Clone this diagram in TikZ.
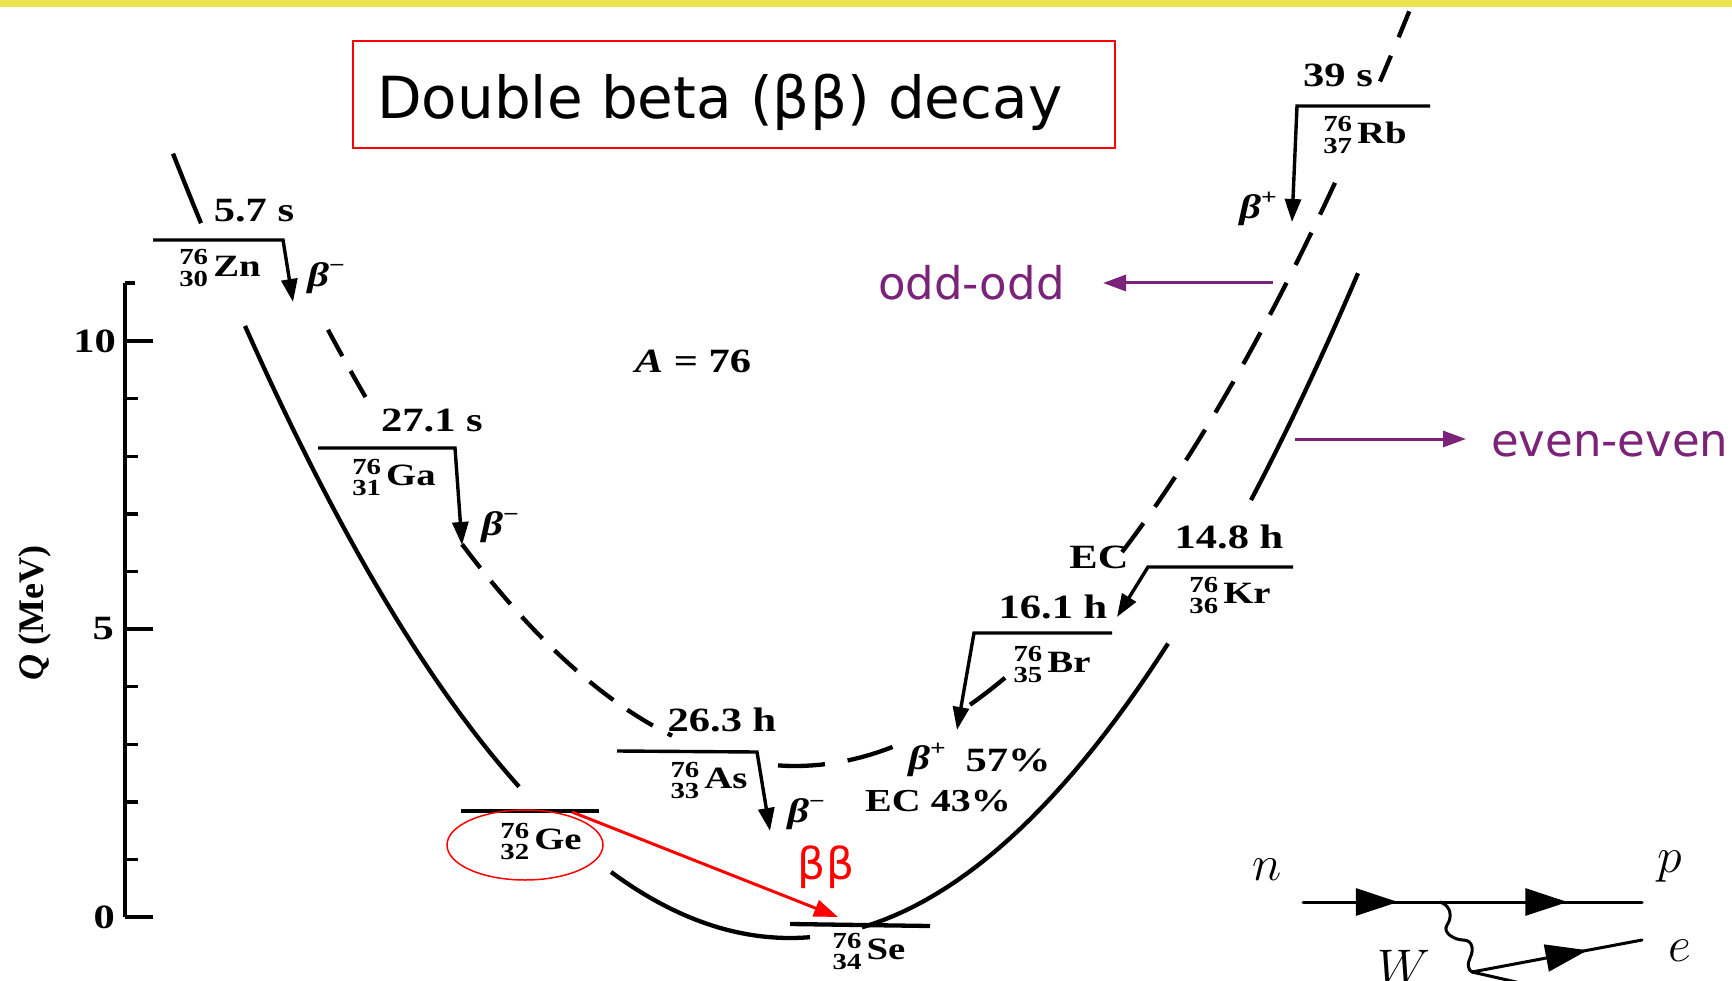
\RequirePackage{fix-cm}
\documentclass[tikz,border=0pt]{standalone}
\usepackage{fontspec}
\setmainfont{Liberation Serif}
\newfontfamily\dejavu{DejaVu Sans}
\newfontfamily\scanfont[FakeStretch=1.25]{Liberation Serif}
\usepackage{xcolor}
\definecolor{slideyellow}{HTML}{E8E54E}
\definecolor{oepurple}{HTML}{7B2378}
\usepackage{tikz}
\usetikzlibrary{positioning,arrows.meta,decorations.markings}

% stacked mass / charge numbers
\newcommand{\nuclide}[3]{{\fontsize{23}{20}\selectfont\begin{tabular}[c]{@{}r@{}}#1\\#2\end{tabular}}\,#3}
% beta with charge sign
\newcommand{\betasign}[1]{\textit{β}\raisebox{0.4em}{\fontsize{22}{22}\selectfont #1}}

\begin{document}
\begin{tikzpicture}[x=1pt, y=-1pt,
  level/.style={line width=4.3pt},
  decay/.style={line width=3.4pt, -{Triangle[length=23pt,width=16pt]}},
  evencurve/.style={line width=4.3pt},
  oddcurve/.style={line width=4.3pt, dash pattern=on 30pt off 17pt},
  axisline/.style={line width=3.4pt},
  scan/.style={font=\scanfont\bfseries\fontsize{34}{38}\selectfont, inner sep=0pt},
  nuc/.style={font=\scanfont\bfseries\fontsize{31}{36}\selectfont, inner sep=0pt},
  betalab/.style={font=\scanfont\bfseries\fontsize{34}{36}\selectfont, inner sep=0pt},
  note/.style={font=\dejavu\fontsize{45}{50}\selectfont, text=oepurple, inner sep=0pt},
  notearrow/.style={oepurple, line width=3pt, -{Triangle[length=23pt,width=16pt]}},
  fermion/.style={line width=3pt, line cap=round},
  fermionarrow/.style={postaction={decorate, decoration={markings,
      mark=at position #1 with {\arrow{Triangle[length=42pt,width=27pt]}}}}},
  feyn/.style={font=\fontsize{50}{56}\selectfont, inner sep=0pt},
  declare function={ee(\t)=938-((\t-790)/22.03)*((\t-790)/22.03);
                    oo(\t)=766-((\t-795)/22.36)*((\t-795)/22.36);}
]
\useasboundingbox (0,0) rectangle (1732,981);
\clip (0,0) rectangle (1732,981);

% title
\draw[red, line width=1.8pt] (353,41) rectangle (1115,148);
\node[anchor=base west, inner sep=0pt, font=\dejavu\fontsize{58}{64}\selectfont] (title) at (377,119) {Double beta (ββ) decay};

% energy axis
\coordinate (ax-top) at (125,283);
\coordinate (ax-bot) at (125,917);
\draw[axisline] (ax-top) -- (ax-bot);
\draw[axisline] (ax-top) -- ++(10,0);
\foreach \q in {0,5,10}
  \draw[axisline] (125,{917-57.6*\q}) -- ++(28,0);
\foreach \q in {1,2,3,4,6,7,8,9}
  \draw[axisline] (125,{917-57.6*\q}) -- ++(13,0);
\node[scan, anchor=east] (t10) at (116,341) {10};
\node[scan, anchor=east] (t5) at (114,629) {5};
\node[scan, anchor=east] (t0) at (115,917) {0};
\node[inner sep=0pt, rotate=90, font=\bfseries\fontsize{36}{40}\selectfont] (qlab) at (35,613) {\textit{Q} (MeV)};

% even-even parabola
\draw[evencurve] plot[domain=173:201, samples=6] (\x,{ee(\x)});
\draw[evencurve] plot[domain=245:519, samples=30] (\x,{ee(\x)});
\draw[evencurve] plot[domain=611:810, samples=30] (\x,{ee(\x)});
\draw[evencurve] plot[domain=862:1168, samples=30] (\x,{ee(\x)});
\draw[evencurve] plot[domain=1251:1358, samples=15] (\x,{ee(\x)});

% odd-odd parabola
\draw[oddcurve] plot[domain=328:373, samples=10] (\x,{oo(\x)});
\draw[oddcurve] plot[domain=462:672, samples=30] (\x,{oo(\x)});
\draw[oddcurve, dash pattern=on 47pt off 23pt] plot[domain=778:895, samples=15] (\x,{oo(\x)});
\draw[evencurve] plot[domain=970:1005, samples=6] (\x,{oo(\x)});
\draw[oddcurve, dash pattern=on 36pt off 20pt] plot[domain=1122:1335, samples=30] (\x,{oo(\x)});
\draw[oddcurve, dash pattern=on 28pt off 20pt] plot[domain=1380:1416, samples=8] (\x,{oo(\x)});

% levels and decays
\coordinate (Zn-l) at (153,240); \coordinate (Zn-r) at (283,240); \coordinate (Zn-t) at (293,302);
\draw[decay] (Zn-l) -- (Zn-r) -- (Zn-t);
\coordinate (Ga-l) at (318,448); \coordinate (Ga-r) at (455,448); \coordinate (Ga-t) at (462,545);
\draw[decay] (Ga-l) -- (Ga-r) -- (Ga-t);
\coordinate (As-l) at (617,751); \coordinate (As-r) at (757,752); \coordinate (As-t) at (770,831);
\draw[decay] (As-l) -- (As-r) -- (As-t);
\coordinate (Ge-l) at (461,811); \coordinate (Ge-r) at (599,811);
\draw[level] (Ge-l) -- (Ge-r);
\coordinate (Se-l) at (790,924); \coordinate (Se-r) at (930,926);
\draw[level] (Se-l) -- (Se-r);
\coordinate (Br-r) at (1112,633); \coordinate (Br-l) at (974,633); \coordinate (Br-t) at (957,730);
\draw[decay] (Br-r) -- (Br-l) -- (Br-t);
\coordinate (Kr-r) at (1293,567); \coordinate (Kr-l) at (1148,567); \coordinate (Kr-t) at (1117,617);
\draw[decay] (Kr-r) -- (Kr-l) -- (Kr-t);
\coordinate (Rb-r) at (1430,106); \coordinate (Rb-l) at (1297,106); \coordinate (Rb-t) at (1292,222);
\draw[decay] (Rb-r) -- (Rb-l) -- (Rb-t);

% nuclide labels
\node[nuc] (zn) at (220,271) {\nuclide{76}{30}{Zn}};
\node[nuc] (ga) at (394,480) {\nuclide{76}{31}{Ga}};
\node[nuc] (ge) at (541,844) {\nuclide{76}{32}{Ge}};
\node[nuc] (as) at (709,783) {\nuclide{76}{33}{As}};
\node[nuc] (se) at (869,954) {\nuclide{76}{34}{Se}};
\node[nuc] (br) at (1052,667) {\nuclide{76}{35}{Br}};
\node[nuc] (kr) at (1230,598) {\nuclide{76}{36}{Kr}};
\node[nuc] (rb) at (1365,138) {\nuclide{76}{37}{Rb}};

% half-lives
\node[scan] (hl-zn) at (254,211) {5.7 s};
\node[scan] (hl-ga) at (432,420) {27.1 s};
\node[scan] (hl-as) at (722,720) {26.3 h};
\node[scan] (hl-br) at (1053,607) {16.1 h};
\node[scan] (hl-kr) at (1229,537) {14.8 h};
\node[scan] (hl-rb) at (1338,75) {39 s};

% decay modes
\node[betalab] (b-zn) at (326,278) {\betasign{−}};
\node[betalab] (b-ga) at (500,527) {\betasign{−}};
\node[betalab] (b-as) at (806,814) {\betasign{−}};
\node[betalab] (b-br) at (927,760) {\betasign{+}};
\node[betalab] (b-rb) at (1258,209) {\betasign{+}};
\node[scan] (p57) at (1008,760) {57\%};
\node[scan, font=\scanfont\bfseries\fontsize{32}{36}\selectfont] (ec43) at (938,801) {EC 43\%};
\node[scan] (ec-kr) at (1099,557) {EC};
\node[scan] (mass) at (693,361) {\textit{A} = 76};

% double beta overlay
\draw[red, line width=1.5pt] (525,845) ellipse [x radius=78, y radius=35];
\draw[red, line width=3pt, -{Triangle[length=24pt,width=17pt]}] (572,812) -- (838,917);
\node[inner sep=0pt, text=red, font=\dejavu\fontsize{44}{50}\selectfont] (bb) at (826,867) {ββ};

% parabola notes
\node[note, anchor=base west] (odd) at (878,300) {odd-odd};
\coordinate (odd-s) at (1273,283);
\draw[notearrow] (odd-s) -- (1103,283);
\node[note, anchor=base west] (even) at (1491,456) {even-even};
\coordinate (even-s) at (1295,439);
\draw[notearrow] (even-s) -- (1466,439);

% beta decay vertex
\coordinate (f-in) at (1303,902);
\coordinate (f-out) at (1642,902);
\coordinate (f-v) at (1440,902);
\coordinate (f-w) at (1472,972);
\coordinate (f-e) at (1642,940);
\coordinate (f-nu) at (1560,992);
\draw[fermion, fermionarrow=0.28, fermionarrow=0.78] (f-in) -- (f-out);
\draw[fermion, fermionarrow=0.68] (f-w) -- (f-e);
\draw[fermion] (f-w) -- (f-nu);
\draw[fermion] (f-v) .. controls (1452,906) and (1452,918) .. (1447,925)
  .. controls (1442,933) and (1455,940) .. (1463,940)
  .. controls (1473,940) and (1474,950) .. (1470,958)
  .. controls (1467,964) and (1468,970) .. (f-w);
\node[feyn] (n-lab) at (1267,870) {$n$};
\node[feyn] (p-lab) at (1670,867) {$p$};
\node[feyn] (e-lab) at (1680,951) {$e$};
\node[feyn, anchor=base] (w-lab) at (1404,984) {$W$};

% top bar
\fill[slideyellow] (0,0) rectangle (1732,7);
\end{tikzpicture}
\end{document}
